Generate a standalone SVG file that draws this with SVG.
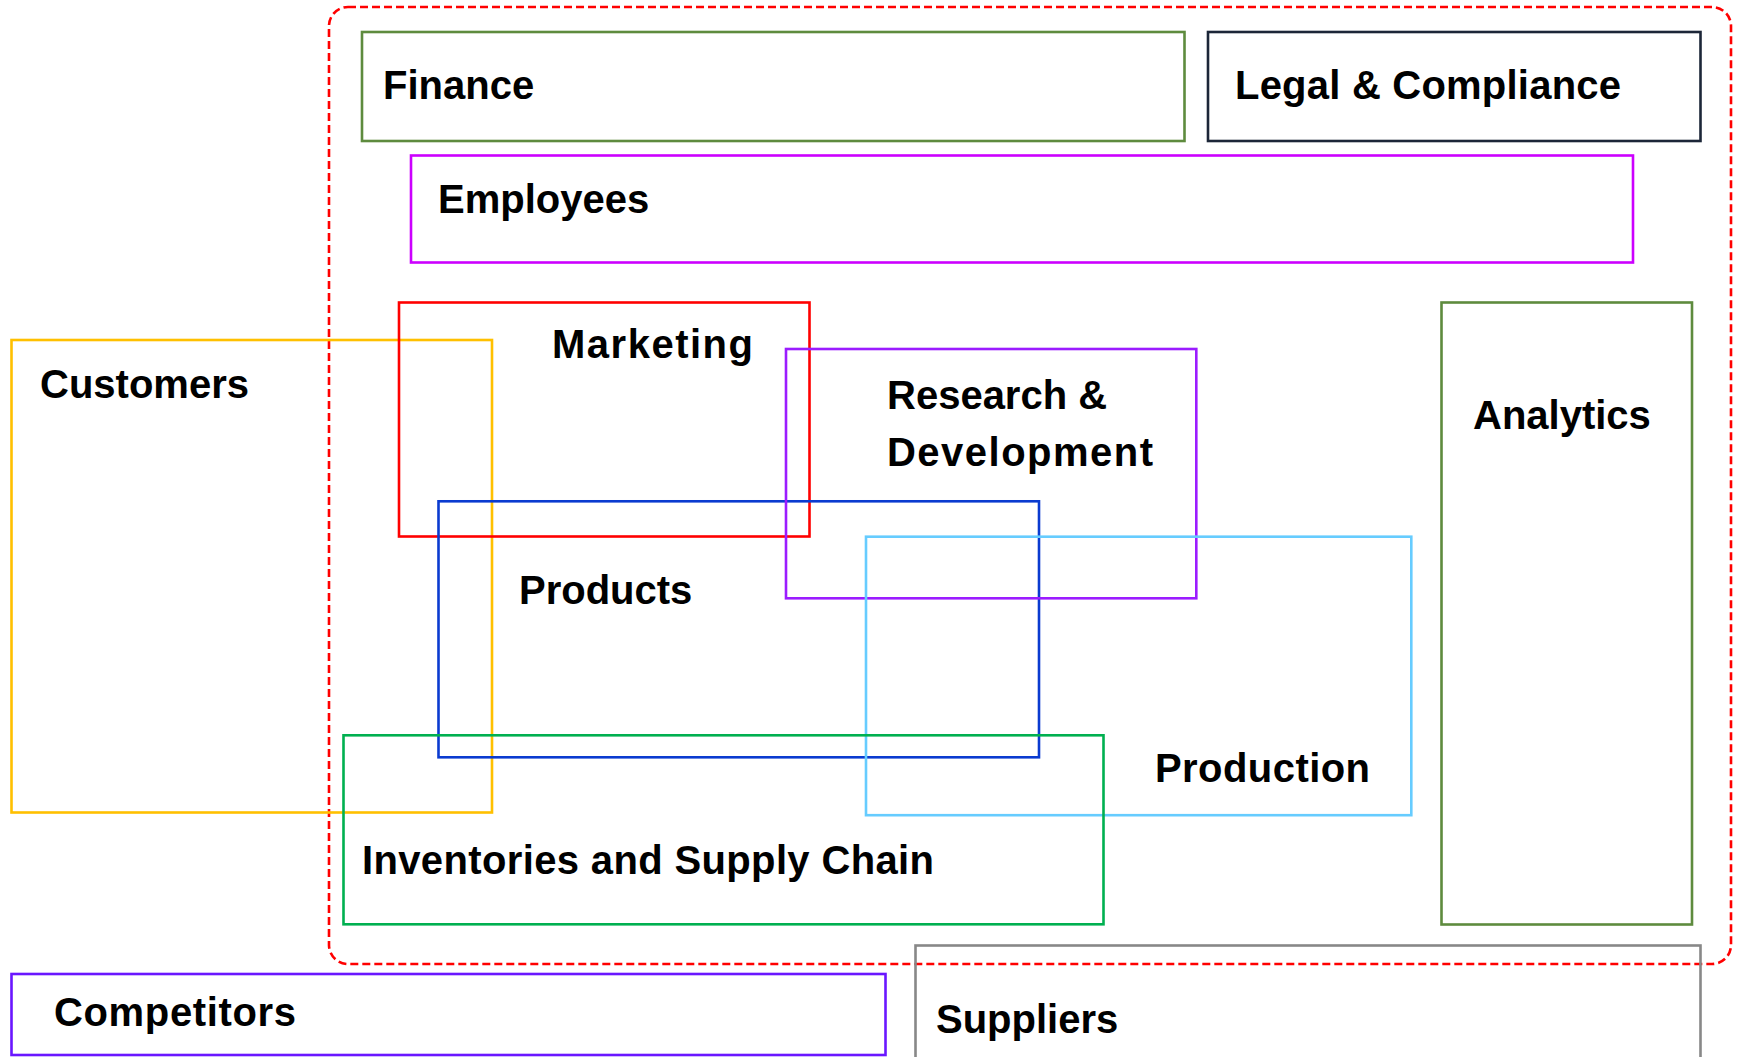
<svg xmlns="http://www.w3.org/2000/svg" width="1737" height="1057" viewBox="0 0 1737 1057">
<style>
  .box { fill: none; stroke-width: 2.6; }
  .lbl { font-family: "Liberation Sans", Arial, sans-serif; font-weight: bold; font-size: 40px; fill: #000; }
</style>
<rect x="0" y="0" width="1737" height="1057" fill="#fff"/>
<g id="organization">
  <rect x="329" y="7" width="1402" height="957" rx="19" ry="19" fill="none" stroke="#FF0000" stroke-width="2.6" stroke-dasharray="8 4"/>
</g>
<g id="finance">
  <rect class="box" x="362" y="32" width="822.5" height="109" stroke="#5E8B3E"/>
  <text class="lbl" x="383" y="99">Finance</text>
</g>
<g id="legal">
  <rect class="box" x="1208" y="32" width="492.5" height="109" stroke="#1C2638" stroke-width="3"/>
  <text class="lbl" x="1235" y="99" textLength="386" lengthAdjust="spacing">Legal &amp; Compliance</text>
</g>
<g id="employees">
  <rect class="box" x="411" y="155.5" width="1222" height="107" stroke="#CC00FF"/>
  <text class="lbl" x="438" y="213">Employees</text>
</g>
<g id="customers">
  <rect class="box" x="11.5" y="340" width="480.5" height="472.5" stroke="#FFC000"/>
  <text class="lbl" x="40" y="398">Customers</text>
</g>
<g id="marketing">
  <rect class="box" x="399" y="302.5" width="410.5" height="234" stroke="#FF0000"/>
  <text class="lbl" x="552" y="358" textLength="201" lengthAdjust="spacing">Marketing</text>
</g>
<g id="analytics">
  <rect class="box" x="1441.5" y="302.5" width="250.5" height="622" stroke="#5E8B3E"/>
  <text class="lbl" x="1473" y="429">Analytics</text>
</g>
<g id="products">
  <rect class="box" x="438.5" y="501.3" width="600.5" height="256" stroke="#0A3BD0"/>
  <text class="lbl" x="519" y="604">Products</text>
</g>
<g id="research">
  <rect class="box" x="786" y="349" width="410.3" height="249.3" stroke="#9B1CFF"/>
  <text class="lbl" x="887" y="409">Research &amp;</text>
  <text class="lbl" x="887" y="466" textLength="266" lengthAdjust="spacing">Development</text>
</g>
<g id="production">
  <rect class="box" x="866" y="536.7" width="545.3" height="278.5" stroke="#66CCFF"/>
  <text class="lbl" x="1155" y="782" textLength="215" lengthAdjust="spacing">Production</text>
</g>
<g id="inventories">
  <rect class="box" x="343.5" y="735.3" width="760" height="189" stroke="#00B050"/>
  <text class="lbl" x="362" y="874" textLength="572" lengthAdjust="spacing">Inventories and Supply Chain</text>
</g>
<g id="competitors">
  <rect class="box" x="11.5" y="974" width="874" height="81" stroke="#6A16FF"/>
  <text class="lbl" x="54" y="1026" textLength="242" lengthAdjust="spacing">Competitors</text>
</g>
<g id="suppliers">
  <rect class="box" x="915.5" y="945.5" width="785" height="130" stroke="#888888"/>
  <text class="lbl" x="936" y="1033">Suppliers</text>
</g>
<g id="connectors"></g>
</svg>
